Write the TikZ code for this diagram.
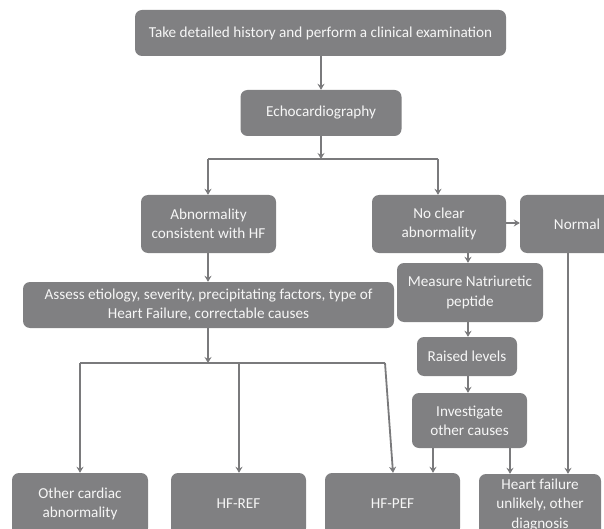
\documentclass[tikz,border=0pt]{standalone}
\usepackage{fontspec}
\setmainfont{Carlito}
\usetikzlibrary{arrows.meta}
\definecolor{boxgray}{RGB}{128,128,130}
\definecolor{linegray}{RGB}{122,122,124}
\definecolor{txtwhite}{RGB}{246,246,246}
\tikzset{
  fbox/.style={draw=none, fill=boxgray, rounded corners=7pt, text=txtwhite,
    align=center, inner sep=0pt, font=\fontsize{15.2}{19.2}\selectfont},
  conn/.style={draw=linegray, line width=1.8pt},
  arr/.style={conn, -{Stealth[length=6pt,width=7pt,inset=2pt]}}
}
\begin{document}
\begin{tikzpicture}[x=1pt,y=-1pt]
\useasboundingbox (0,0) rectangle (604,529);
\clip (0,0) rectangle (604,529);
\fill[white] (0,0) rectangle (604,529);
% boxes
\node[fbox, minimum width=371pt, minimum height=46pt] (hist) at (320.5,33) {Take detailed history and perform a clinical examination};
\node[fbox, minimum width=161pt, minimum height=46pt] (echo) at (321,113) {Echocardiography};
\node[fbox, minimum width=135pt, minimum height=58pt] (abn) at (208.5,224) {Abnormality\\consistent with HF};
\node[fbox, minimum width=134pt, minimum height=58pt] (noclr) at (439,224) {No clear\\abnormality};
\node[fbox, minimum width=114pt, minimum height=58pt] (normal) at (577,224) {Normal};
\node[fbox, minimum width=371pt, minimum height=46pt] (assess) at (208.5,305) {Assess etiology, severity, precipitating factors, type of\\Heart Failure, correctable causes};
\node[fbox, minimum width=146pt, minimum height=59pt] (measure) at (470,292.5) {Measure Natriuretic\\peptide};
\node[fbox, minimum width=100pt, minimum height=39pt] (raised) at (467,356.5) {Raised levels};
\node[fbox, minimum width=115pt, minimum height=55pt] (invest) at (469.5,420.5) {Investigate\\other causes};
\node[fbox, minimum width=136pt, minimum height=62pt] (other) at (80,504) {Other cardiac\\abnormality};
\node[fbox, minimum width=135pt, minimum height=62pt] (hfref) at (238.5,504) {HF-REF};
\node[fbox, minimum width=135pt, minimum height=62pt] (hfpef) at (392.5,504) {HF-PEF};
\node[fbox, minimum width=122pt, minimum height=62pt] (hfu) at (540,505) {Heart failure\\unlikely, other\\diagnosis};
% junction coordinates
\coordinate (j1) at (321,159);
\coordinate (j1l) at (208,159);
\coordinate (j1r) at (438,159);
\coordinate (j2) at (208,363);
\coordinate (j2l) at (80,363);
\coordinate (j2m) at (239,363);
\coordinate (j2r) at (385,363);
% connectors
\draw[arr] (hist.south -| echo) -- (echo.north);
\draw[arr] (echo.south) -- (j1);
\draw[conn] (j1l) -- (j1r);
\draw[arr] (j1l) -- (j1l |- abn.north);
\draw[arr] (j1r) -- (j1r |- noclr.north);
\draw[arr] (noclr.east |- 0,223) -- (normal.west |- 0,223);
\draw[arr] (468,0 |- noclr.south) -- (468,0 |- measure.north);
\draw[arr] (468,0 |- measure.south) -- (468,0 |- raised.north);
\draw[arr] (468,0 |- raised.south) -- (468,0 |- invest.north);
\draw[arr] (208,0 |- abn.south) -- (208,0 |- assess.north);
\draw[arr] (208,0 |- assess.south) -- (j2);
\draw[conn] (j2l) -- (j2r);
\draw[arr] (j2l) -- (j2l |- other.north);
\draw[arr] (j2m) -- (j2m |- hfref.north);
\draw[arr] (j2r) -- (393,0 |- hfpef.north);
\draw[arr] (433,0 |- invest.south) -- (433,0 |- hfpef.north);
\draw[arr] (510,0 |- invest.south) -- (510,0 |- hfu.north);
\draw[arr] (568,0 |- normal.south) -- (568,0 |- hfu.north);
\end{tikzpicture}
\end{document}
